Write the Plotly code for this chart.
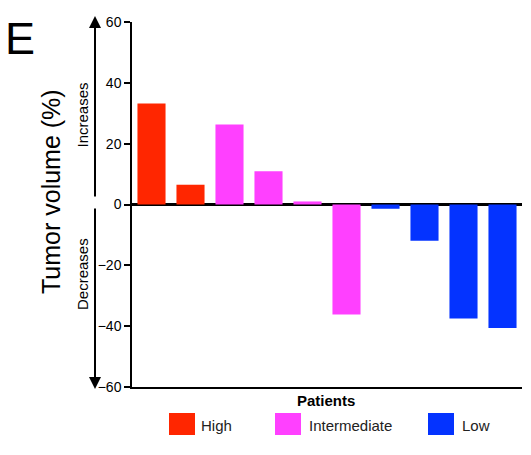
import plotly.graph_objects as go

patients = list(range(1, 11))
values = [33.2, 6.5, 26.3, 10.9, 1.0, -36.2, -1.4, -11.9, -37.5, -40.6]
groups = ["High", "High", "Intermediate", "Intermediate", "Intermediate",
          "Intermediate", "Low", "Low", "Low", "Low"]
group_names = ["High", "Intermediate", "Low"]
group_colors = {"High": "#FF2600", "Intermediate": "#FF40FF", "Low": "#0433FF"}
y_ticks = [-60, -40, -20, 0, 20, 40, 60]

FONT = "Liberation Sans, Arial, sans-serif"

fig = go.Figure()
for g in group_names:
    xs = [p for p, gg in zip(patients, groups) if gg == g]
    ys = [v for v, gg in zip(values, groups) if gg == g]
    fig.add_trace(go.Bar(x=xs, y=ys, name=g, width=0.72,
                         marker=dict(color=group_colors[g], line=dict(width=0)),
                         showlegend=False))

fig.update_layout(
    width=531, height=455,
    margin=dict(l=132, r=9, t=22, b=68),
    paper_bgcolor="white", plot_bgcolor="white",
    font=dict(family=FONT, color="black"),
    xaxis=dict(range=[0.5, 10.5], showticklabels=False, ticks="", showgrid=False,
               zeroline=False, showline=True, linecolor="black", linewidth=2),
    yaxis=dict(range=[-60, 60], tickvals=y_ticks, ticks="outside", ticklen=6,
               tickwidth=1.5, tickcolor="black", showgrid=False,
               showline=True, linecolor="black", linewidth=1.5,
               zeroline=True, zerolinecolor="black", zerolinewidth=3,
               tickfont=dict(size=14, family=FONT, color="black")),
)

def px_to_paper_x(px):
    return (px - 132) / 390

def px_to_paper_y(py):
    return (387 - py) / 365

def text_ann(px, py, text, size, angle=0, xanchor="center", color="black"):
    return dict(x=px_to_paper_x(px), y=px_to_paper_y(py), xref="paper", yref="paper",
                text=text, textangle=angle, showarrow=False,
                xanchor=xanchor, yanchor="middle",
                font=dict(size=size, family=FONT, color=color))

ann = []
# Arrows
ann.append(dict(x=px_to_paper_x(95), y=px_to_paper_y(16), xref="paper", yref="paper",
                ax=0, ay=182, text="", showarrow=True, arrowhead=2, arrowsize=1.2,
                arrowwidth=2, arrowcolor="black"))
ann.append(dict(x=px_to_paper_x(95), y=px_to_paper_y(389), xref="paper", yref="paper",
                ax=0, ay=-182, text="", showarrow=True, arrowhead=2, arrowsize=1.2,
                arrowwidth=2, arrowcolor="black"))
ann.append(text_ann(82, 115.5, "Increases", 15, -90))
ann.append(text_ann(82, 274, "Decreases", 15, -90))
ann.append(text_ann(51, 192, "Tumor volume (%)", 25, -90))
ann.append(text_ann(20, 38, "E", 45))
ann.append(text_ann(326, 400, "<b>Patients</b>", 15))

shapes = []
sq_x = [169, 275, 428]
txt_x = [199, 307, 460]
for g, sx, tx in zip(group_names, sq_x, txt_x):
    shapes.append(dict(type="rect", xref="paper", yref="paper",
                       x0=px_to_paper_x(sx), x1=px_to_paper_x(sx + 26),
                       y0=px_to_paper_y(413), y1=px_to_paper_y(435),
                       fillcolor=group_colors[g], line=dict(width=0)))
    ann.append(text_ann(tx, 425, g, 15, 0, "left", "#222222"))

fig.update_layout(annotations=ann, shapes=shapes)
fig.write_html("out.html")
